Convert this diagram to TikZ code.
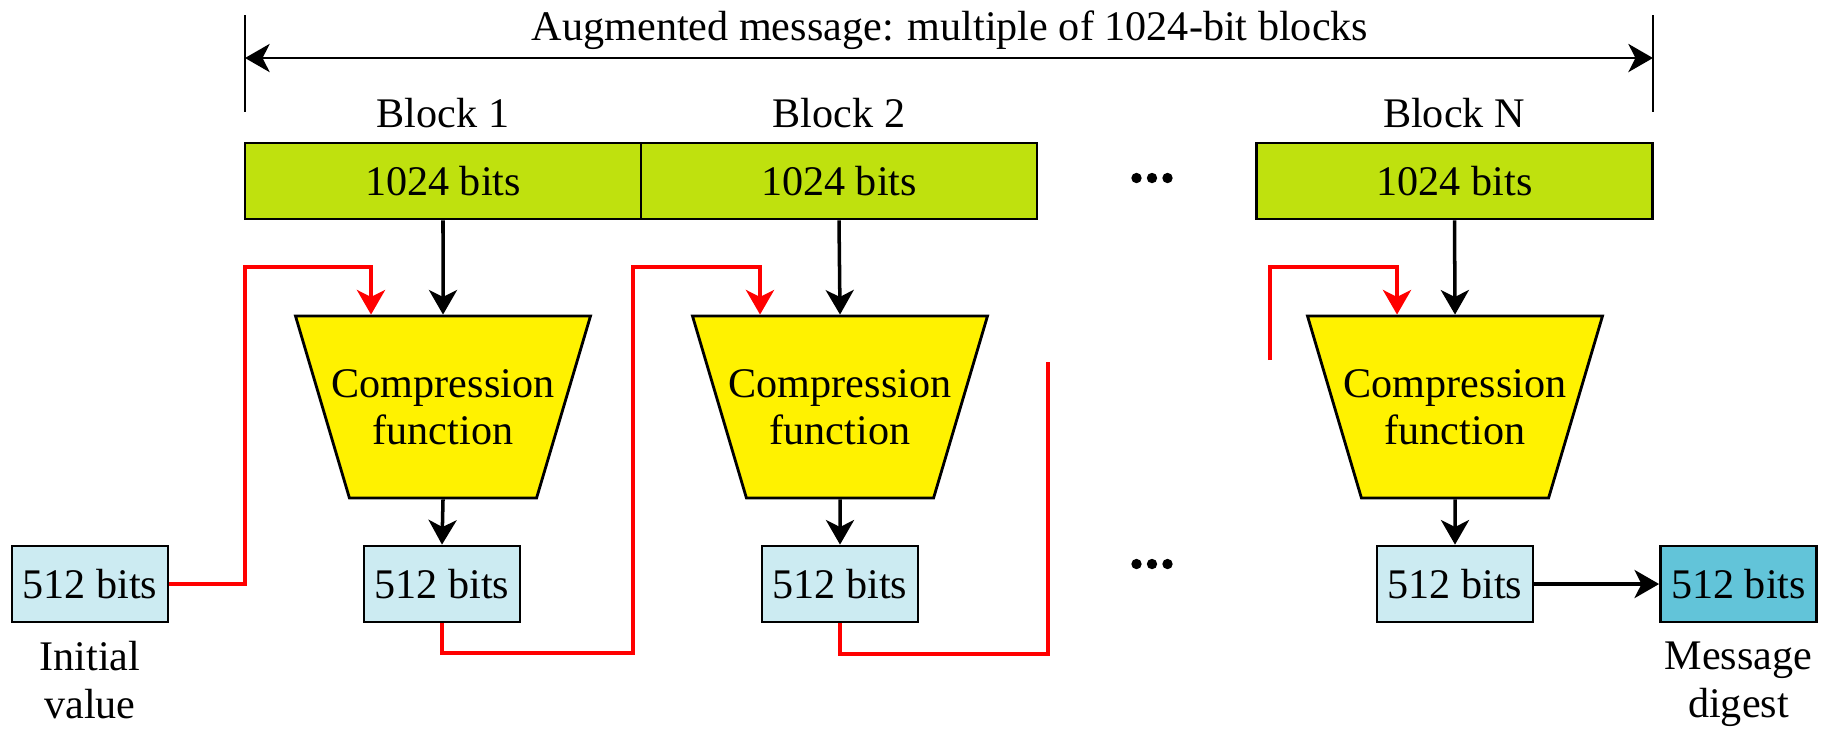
\documentclass[tikz,border=0pt]{standalone}
\usepackage{fontspec}
\setmainfont{Liberation Serif}
\usepackage{tikz}
\usetikzlibrary{arrows.meta,shapes.geometric}
\definecolor{blockgreen}{RGB}{191,225,14}
\definecolor{hashblue}{RGB}{204,235,242}
\definecolor{digestblue}{RGB}{98,196,217}
\tikzset{
  >={Stealth[length=7pt,width=8pt,inset=2pt]},
}

\begin{document}
\begin{tikzpicture}[
    font=\fontsize{12}{13.5}\selectfont,
    blk/.style={draw, line width=0.8pt, fill=blockgreen, minimum width=3.96cm, minimum height=0.76cm, inner sep=0pt},
    cmp/.style={draw, line width=0.8pt, fill=yellow, trapezium, shape border rotate=180, trapezium angle=73.3, trapezium stretches body, minimum width=2.95cm, minimum height=1.82cm, inner xsep=-0.2cm, inner ysep=0.52cm, align=center},
    hsh/.style={draw, line width=0.8pt, fill=hashblue, minimum width=1.56cm, minimum height=0.76cm, inner sep=0pt},
    flow/.style={->, line width=1pt},
    feed/.style={red, line width=1.1pt},
    ]
    \useasboundingbox (0,0) rectangle (18.27,-7.29);
    \node[anchor=base] (aug) at (9.50,-0.40) {Augmented message: multiple of 1024-bit blocks};
    \coordinate (ltop) at (2.45,-0.15);
    \coordinate (lbot) at (2.45,-1.12);
    \coordinate (lmid) at (2.45,-0.58);
    \coordinate (rtop) at (16.53,-0.15);
    \coordinate (rbot) at (16.53,-1.12);
    \coordinate (rmid) at (16.53,-0.58);
    \draw[line width=0.8pt] (ltop) -- (lbot);
    \draw[line width=0.8pt] (rtop) -- (rbot);
    \draw[<->, line width=0.8pt] (lmid) -- (rmid);
    \node (b1) at (4.43,-1.13) {Block 1};
    \node (b2) at (8.39,-1.13) {Block 2};
    \node (bN) at (14.54,-1.13) {Block N};
    \node[blk] (g1) at (4.43,-1.81) {1024 bits};
    \node[blk] (g2) at (8.39,-1.81) {1024 bits};
    \node[blk] (gN) at (14.545,-1.81) {1024 bits};
    \node[cmp] (cf1) at (4.43,-4.07) {Compression\\function};
    \node[cmp] (cf2) at (8.40,-4.07) {Compression\\function};
    \node[cmp] (cfN) at (14.55,-4.07) {Compression\\function};
    \node[hsh] (iv) at (0.90,-5.84) {512 bits};
    \node[hsh] (h1) at (4.42,-5.84) {512 bits};
    \node[hsh] (h2) at (8.40,-5.84) {512 bits};
    \node[hsh] (hN) at (14.55,-5.84) {512 bits};
    \node[hsh, fill=digestblue] (dg) at (17.385,-5.84) {512 bits};
    \node[align=center] (ivtxt) at (0.90,-6.80) {Initial\\value};
    \node[align=center] (dgtxt) at (17.385,-6.84) {Message\\digest};
    \foreach \y in {-1.78,-5.64}
      \foreach \dx in {-0.155,0,0.155}
        \fill (11.52+\dx,\y) circle (0.052);
    \draw[flow] (g1.south) -- (cf1.north);
    \draw[flow] (g2.south) -- (cf2.north);
    \draw[flow] (gN.south) -- (cfN.north);
    \draw[flow] (cf1.south) -- (h1.north);
    \draw[flow] (cf2.south) -- (h2.north);
    \draw[flow] (cfN.south) -- (hN.north);
    \draw[flow] (hN.east) -- (dg.west);
    \coordinate (r1) at (2.45,-2.67);
    \coordinate (d1) at (6.33,-6.53);
    \coordinate (u1) at (6.33,-2.67);
    \coordinate (d2) at (10.48,-6.54);
    \coordinate (e2) at (10.48,-3.62);
    \coordinate (sN) at (12.70,-3.60);
    \coordinate (uN) at (12.70,-2.67);
    \draw[feed, ->] (iv.east) -| (r1) -| ([xshift=-7.2mm]cf1.north);
    \draw[feed, ->] (h1.south) |- (d1) -- (u1) -| ([xshift=-8mm]cf2.north);
    \draw[feed] (h2.south) |- (d2) -- (e2);
    \draw[feed, ->] (sN) -- (uN) -| ([xshift=-5.8mm]cfN.north);
\end{tikzpicture}
\end{document}
